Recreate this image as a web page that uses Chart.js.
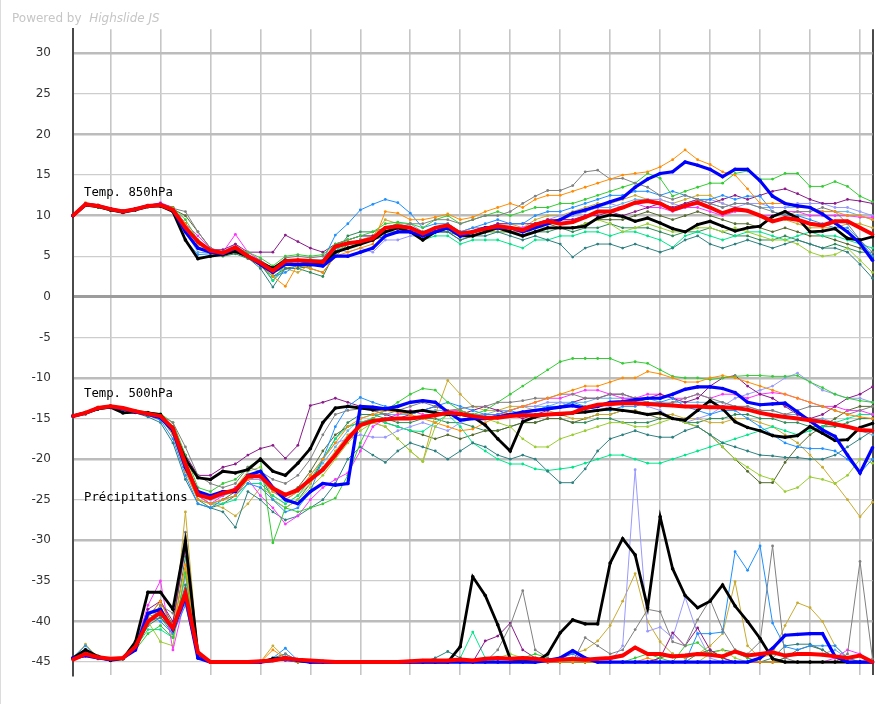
<!DOCTYPE html>
<html>
<head>
<meta charset="utf-8">
<style>
  html, body { margin: 0; padding: 0; background: #fff; }
  #wrap { position: relative; width: 879px; height: 704px; overflow: hidden; }
  #edge { position: absolute; left: 0; top: 0; width: 1px; height: 704px; background: #dcdcdc; }
  #credit { position: absolute; left: 12px; top: 11px; font: 12px "DejaVu Sans", sans-serif; color: #c6c6c6; white-space: pre; }
  #credit i { font-style: italic; }
</style>
<script src="https://cdn.jsdelivr.net/npm/chart.js@4.4.1/dist/chart.umd.min.js"></script>
</head>
<body>
<div id="wrap">
  <canvas id="ens" width="879" height="704"></canvas>
  <div id="edge"></div>
  <div id="credit">Powered by  <i>Highslide JS</i></div>
</div>
<script>
// forecast steps (hours), 6-hourly
const hours = [0,6,12,18,24,30,36,42,48,54,60,66,72,78,84,90,96,102,108,114,120,126,132,138,144,150,156,162,168,174,180,186,192,198,204,210,216,222,228,234,240,246,252,258,264,270,276,282,288,294,300,306,312,318,324,330,336,342,348,354,360,366,372,378,384];
const yTicks = [30,25,20,15,10,5,0,-5,-10,-15,-20,-25,-30,-35,-40,-45];
const panelTitles = ['Temp. 850hPa', 'Temp. 500hPa', 'Précipitations'];
const panelTitleLevels = [12.4, -12.4, -25.2];

const memberColors = ['#ff8c00','#808080','#33cc33','#1e90ff','#8b1a8b','#ff33ff','#2f8080','#9acd32','#00e68a','#9999ff','#c8aa30','#556b2f','#2e8b57','#66b3e6'];

// ---- Temp. 850hPa ----
const t850Mean = [10,11.4,11.2,10.8,10.5,10.8,11.2,11.3,10.7,8.5, 6.8,5.7,5.4,6.1,5.0,4.2,3.2,4.4,4.5,4.4, 4.3,6.2,6.6,6.8,7.2,8.5,8.7,8.5,7.8,8.5, 8.8,7.8,8.0,8.4,8.7,8.5,8.2,8.9,9.3,9.0, 9.2,9.8,10.5,10.5,11.0,11.6,11.8,11.5,10.7,11.2, 11.6,11.0,10.3,10.8,10.6,10.0,9.3,9.7,9.5,9.0, 8.8,9.3,9.3,8.5,7.7];
const t850Oper = [10,11.4,11.2,10.8,10.5,10.8,11.2,11.3,10.7,8.0, 6.0,5.5,5.3,6.0,5.0,4.0,3.0,4.0,4.0,4.0, 3.8,5.0,5.0,5.5,6.0,7.5,8.0,8.0,7.5,8.0, 8.5,7.5,8.0,8.5,8.5,8.5,8.0,8.5,9.0,9.5, 10.3,10.7,11.2,11.7,12.2,13.5,14.5,15.2,15.4,16.6, 16.2,15.7,14.8,15.7,15.7,14.3,12.4,11.5,11.2,11.0, 10.2,9.1,8.0,6.6,4.5];
const t850Ctrl = [10,11.3,11.1,10.7,10.4,10.7,11.1,11.2,10.5,7.0, 4.7,5.0,5.2,5.6,5.0,4.2,3.5,4.5,4.5,4.3, 4.0,5.5,6.0,6.5,7.0,8.0,8.5,8.0,7.0,8.0, 8.5,7.5,7.5,8.0,8.5,8.0,7.5,8.0,8.5,8.5, 8.5,8.7,9.7,10.1,9.9,9.3,9.7,9.1,8.4,8.0, 8.9,9.3,8.7,8.1,8.5,8.7,9.9,10.5,9.7,8.0, 8.1,8.4,7.2,7.0,7.4];
const t850M1 = [10,11.6,11.3,10.8,10.6,10.9,11.2,11.4,10.9,9.0, 6.5,5.6,5.3,5.8,5.0,4.0,2.5,1.3,4.0,3.5, 3.0,5.0,5.5,6.0,6.5,10.5,10.3,9.5,9.5,9.8, 10.2,9.5,9.8,10.5,11.0,11.5,11.0,12.0,12.5,12.5, 13.0,13.5,14.0,14.5,15.0,15.2,15.4,16.0,16.9,18.1, 16.9,16.3,15.4,15.0,13.3,11.5,11.5,11.5,11.0,11.0, 10.5,10.5,10.0,10.0,9.5];
const t850M2 = [10,11.5,11.3,10.9,10.6,10.8,11.1,11.3,10.9,10.5, 8.0,6.0,5.5,5.8,5.2,4.5,3.5,4.8,5.0,4.8, 5.0,6.0,6.5,7.0,7.0,8.0,8.5,9.0,9.0,9.5, 9.5,9.0,9.5,10.0,10.0,10.5,11.5,12.4,13.1,13.1, 13.7,15.4,15.6,14.5,14.6,14.0,13.5,12.5,12.0,12.5, 12.0,11.5,11.0,11.5,11.5,11.0,10.5,10.0,10.5,10.5, 11.0,10.5,9.0,7.0,5.5];
const t850M3 = [10,11.3,11.0,10.6,10.4,10.8,11.2,11.4,11.0,9.5, 7.0,5.8,5.5,6.0,5.5,4.8,3.8,5.0,5.2,5.0, 5.2,6.5,7.0,7.5,8.0,9.0,9.2,9.0,8.5,9.5, 10.0,9.0,9.5,10.0,10.5,10.0,10.5,11.0,11.0,11.5, 11.5,12.0,12.5,13.0,13.5,14.0,15.2,14.6,12.4,13.0, 13.5,14.0,14.0,15.2,15.5,14.5,14.5,15.2,15.2,13.6, 13.6,14.2,13.6,12.4,11.7];
const t850M4 = [10,11.4,11.2,10.8,10.4,10.7,11.1,11.2,10.5,7.0, 5.2,5.3,5.5,6.0,5.0,4.0,2.5,3.0,4.0,4.5, 4.5,7.6,9.0,10.7,11.4,12.0,11.6,10.3,8.5,9.0, 9.0,8.0,8.5,9.0,9.5,9.0,9.0,10.0,10.5,10.5, 11.0,11.5,12.0,12.5,12.5,13.0,13.0,12.5,13.0,12.5, 12.0,12.0,12.5,12.0,12.4,12.4,10.5,10.0,10.0,9.5, 9.0,8.5,8.5,7.0,5.0];
const t850M5 = [10,11.5,11.3,10.9,10.6,10.9,11.3,11.5,11.0,9.0, 6.5,5.8,5.8,6.5,5.5,5.5,5.5,7.6,6.8,6.0, 5.5,6.5,7.0,7.5,7.5,8.0,8.5,8.5,8.0,8.5, 8.5,8.0,8.0,8.5,9.0,9.0,9.0,9.0,9.5,9.5, 9.5,10.0,10.0,10.5,10.0,10.5,11.0,11.5,11.0,11.5, 12.0,11.5,12.0,12.5,12.0,12.5,13.0,13.3,12.7,12.0, 11.5,11.5,12.0,11.8,11.5];
const t850M6 = [10,11.4,11.1,10.8,10.5,10.8,11.2,11.6,11.0,9.0, 7.5,6.0,5.5,7.7,5.5,4.5,3.5,4.5,4.5,4.0, 4.0,6.0,6.5,7.0,7.0,8.5,8.5,8.5,7.5,8.5, 8.5,7.5,8.0,8.5,8.5,8.5,8.5,9.0,9.5,9.5, 9.5,10.0,10.5,10.5,11.0,11.5,11.0,11.0,10.5,11.0, 11.0,10.5,10.0,10.5,10.5,10.0,10.0,10.5,10.5,10.0, 10.0,10.0,10.0,9.8,9.8];
const t850M7 = [10,11.3,11.0,10.7,10.4,10.7,11.1,11.2,10.6,8.0, 6.0,5.5,5.2,5.5,4.8,3.5,1.2,3.5,3.5,3.8, 4.0,5.5,6.0,6.5,7.0,7.5,8.0,8.0,7.5,8.0, 8.0,7.0,7.5,7.5,8.0,7.5,7.0,7.5,7.0,6.5, 4.9,6.0,6.5,6.5,6.0,6.5,6.0,5.5,6.0,7.0, 7.5,6.5,6.0,6.5,7.0,6.5,6.0,6.5,7.0,6.5, 6.0,6.0,5.5,4.0,2.3];
const t850M8 = [10,11.5,11.2,10.8,10.5,10.8,11.2,11.3,10.8,8.5, 6.5,5.5,5.3,6.0,5.0,4.0,2.8,4.0,4.0,4.0, 4.0,6.0,6.5,6.5,7.0,8.0,8.0,8.0,7.0,8.0, 8.5,7.5,7.5,8.0,8.0,8.0,7.5,8.5,8.5,8.5, 8.5,9.0,9.5,9.0,8.0,8.5,9.0,8.5,8.0,8.0, 8.5,8.5,8.0,8.5,8.0,7.5,7.0,7.0,6.5,5.5, 5.0,5.2,6.0,4.5,3.0];
const t850M9 = [10,11.4,11.2,10.7,10.5,10.8,11.2,11.3,10.8,8.5, 6.5,5.6,5.5,6.0,5.0,4.5,2.0,4.0,4.5,4.5, 4.5,6.0,6.0,6.5,7.0,8.0,8.0,8.0,7.0,7.5, 7.5,6.5,7.0,7.0,7.0,6.5,6.0,7.0,7.0,7.5, 7.5,8.0,8.0,7.5,8.0,8.0,7.5,7.0,6.1,7.5, 8.0,7.5,7.0,7.5,8.0,8.0,7.5,7.0,7.5,8.0, 7.5,7.5,7.0,6.5,6.0];
const t850M10 = [10,11.4,11.1,10.8,10.5,10.8,11.2,11.4,10.8,8.0, 6.0,5.6,5.5,6.5,5.0,4.0,3.0,4.0,4.0,4.5, 4.5,6.0,5.5,6.0,5.5,7.0,7.0,7.5,7.5,8.0, 8.5,8.0,8.5,8.5,9.0,8.5,8.5,9.0,9.5,10.0, 10.0,10.5,11.0,11.5,11.0,11.5,12.0,12.0,11.5,11.0, 11.5,12.0,11.5,11.0,11.5,11.5,11.0,11.0,11.5,11.5, 11.5,11.0,11.0,10.5,10.0];
const t850M11 = [10,11.5,11.3,10.9,10.6,10.8,11.2,11.3,10.8,9.0, 7.0,5.5,5.3,5.8,4.8,4.0,3.0,3.5,3.0,4.0, 4.0,5.5,6.5,7.0,7.5,9.5,9.0,8.5,8.0,8.5, 9.0,8.0,8.5,8.5,9.0,9.0,8.5,9.5,10.0,10.0, 10.5,11.0,11.5,11.5,12.0,12.5,12.0,12.0,11.5,12.0, 12.5,12.5,11.5,11.0,10.5,10.0,9.5,9.5,9.0,8.5, 8.5,8.5,9.0,9.0,8.5];
const t850M12 = [10,11.3,11.1,10.7,10.4,10.7,11.1,11.3,10.8,10.0, 8.0,6.0,5.2,5.5,4.8,3.8,2.5,3.5,3.8,3.5, 3.0,5.0,6.5,7.0,7.0,8.0,8.5,8.0,7.0,8.0, 8.0,7.0,7.5,8.0,8.5,8.0,8.0,8.5,9.0,8.5, 8.5,9.0,9.5,9.5,9.5,10.0,10.5,10.0,9.5,10.0, 10.5,10.0,9.5,9.0,9.0,8.5,8.0,8.5,8.0,7.5, 7.5,7.0,6.5,6.0,5.0];
const t850M13 = [10,11.4,11.2,10.8,10.5,10.8,11.1,11.2,10.7,8.5, 6.5,5.5,5.0,5.3,4.7,4.0,2.0,3.5,3.5,3.0, 2.5,5.5,7.5,8.0,8.0,8.5,9.0,8.5,7.5,8.0, 8.0,7.5,7.5,8.0,8.0,8.0,7.5,8.0,8.0,8.5, 8.0,8.5,8.5,9.0,8.5,8.5,8.5,8.0,7.5,8.0, 8.0,8.5,8.0,7.5,7.5,7.0,7.0,7.5,7.0,6.5, 6.0,6.5,6.0,5.5,5.5];
const t850M14 = [10,11.5,11.3,10.9,10.6,10.9,11.3,11.4,10.9,8.0, 5.5,5.4,5.5,6.0,5.0,4.5,3.5,4.5,4.5,4.5, 4.5,6.5,7.0,7.5,7.5,8.5,9.0,9.0,8.0,8.5, 9.0,8.0,8.0,8.5,8.5,8.5,8.5,9.0,9.5,9.5, 10.0,10.5,11.0,11.0,11.5,12.0,12.0,11.5,11.0,11.5, 12.0,11.5,11.0,11.5,11.5,11.0,11.0,11.0,11.0,11.0, 10.5,10.5,10.5,10.0,9.5];

// ---- Temp. 500hPa ----
const t500Mean = [-14.7,-14.3,-13.7,-13.5,-13.7,-14.1,-14.4,-14.7,-16.2,-20.6, -24.4,-24.8,-24.2,-23.8,-22.1,-22.1,-23.6,-24.4,-23.8,-22.5, -21.3,-19.5,-17.5,-15.8,-15.3,-15.1,-15.0,-15.0,-14.8,-14.6, -14.3,-14.4,-14.7,-14.9,-14.9,-14.7,-14.6,-14.6,-14.5,-14.4, -14.3,-13.7,-13.3,-13.2,-13.1,-13.1,-13.2,-13.3,-13.4,-13.5, -13.5,-13.6,-13.6,-13.7,-13.9,-14.3,-14.6,-14.8,-15.0,-15.2, -15.4,-15.7,-16.0,-16.4,-16.5];
const t500Oper = [-14.7,-14.3,-13.7,-13.5,-13.8,-14.2,-14.5,-14.9,-16.5,-21.0, -24.0,-24.5,-24.0,-24.0,-22.0,-21.5,-23.5,-25.0,-25.5,-24.0, -23.0,-23.2,-23.0,-13.5,-13.6,-13.8,-13.5,-13.0,-12.8,-13.0, -14.2,-15.2,-15.0,-15.0,-14.8,-14.5,-14.2,-14.0,-13.8,-13.6, -13.4,-13.7,-13.5,-13.0,-12.9,-12.7,-12.5,-12.5,-12.0,-11.4, -11.1,-11.1,-11.3,-11.8,-13.0,-13.3,-13.2,-13.1,-14.2,-15.3, -16.4,-17.2,-19.5,-21.7,-18.6];
const t500Ctrl = [-14.7,-14.3,-13.8,-13.6,-14.3,-14.2,-14.3,-14.5,-16.5,-20.0, -22.3,-22.5,-21.5,-21.7,-21.3,-20.0,-21.5,-22.0,-20.5,-18.7, -15.5,-13.7,-13.5,-13.7,-13.9,-13.8,-14.0,-14.2,-14.0,-14.3, -14.5,-14.5,-14.8,-15.8,-17.5,-19.0,-15.4,-14.8,-14.5,-14.5, -14.3,-14.2,-14.0,-13.8,-14.0,-14.2,-14.5,-14.3,-15.0,-15.2, -14.0,-12.8,-13.8,-15.4,-16.1,-16.5,-17.1,-17.3,-17.1,-16.0, -16.8,-17.7,-17.6,-16.1,-15.6];
const t500M1 = [-14.7,-14.2,-13.6,-13.5,-13.8,-14.0,-14.3,-14.8,-17.0,-21.5, -25.0,-25.5,-25.0,-24.5,-22.5,-22.0,-24.0,-25.0,-24.0,-22.0, -20.0,-18.0,-16.0,-15.0,-14.5,-14.0,-14.2,-14.5,-15.0,-15.5, -16.0,-16.5,-16.3,-15.5,-14.8,-14.0,-13.5,-13.0,-12.5,-12.0, -11.5,-11.0,-11.0,-10.5,-10.0,-10.0,-9.2,-9.5,-10.0,-10.5, -10.5,-10.0,-9.7,-10.0,-10.5,-11.0,-11.5,-12.0,-12.5,-13.0, -13.5,-14.0,-14.5,-14.8,-15.0];
const t500M2 = [-14.6,-14.3,-13.7,-13.6,-13.9,-14.1,-14.4,-14.6,-15.5,-18.5, -22.0,-23.0,-23.5,-23.0,-21.0,-21.5,-22.5,-23.0,-22.0,-20.0, -17.0,-14.5,-14.0,-13.8,-14.0,-14.5,-14.0,-13.5,-13.0,-13.5, -14.0,-13.8,-13.5,-13.5,-13.0,-13.0,-12.8,-12.5,-12.5,-12.0, -12.0,-12.5,-12.5,-12.0,-12.0,-12.5,-13.0,-13.5,-13.0,-12.5, -12.0,-12.5,-13.0,-13.5,-13.5,-14.0,-14.0,-14.5,-14.0,-13.5, -13.5,-14.0,-14.5,-14.0,-13.5];
const t500M3 = [-14.6,-14.2,-13.6,-13.4,-13.7,-14.0,-14.2,-14.4,-15.5,-19.5, -23.5,-24.0,-23.0,-22.5,-21.0,-20.0,-30.3,-26.0,-26.5,-26.0, -25.5,-24.8,-22.0,-18.0,-15.0,-14.0,-13.0,-12.0,-11.3,-11.5, -13.0,-14.0,-14.5,-14.0,-13.0,-12.0,-11.0,-10.0,-9.0,-8.0, -7.6,-7.6,-7.6,-7.6,-8.2,-8.0,-8.2,-9.0,-9.8,-10.0, -10.0,-10.2,-10.0,-9.8,-9.7,-9.7,-9.8,-9.8,-9.7,-10.5, -11.2,-12.0,-12.5,-12.8,-13.0];
const t500M4 = [-14.8,-14.4,-13.8,-13.6,-13.9,-14.2,-14.6,-15.2,-17.5,-22.0, -25.5,-26.0,-25.0,-24.5,-23.0,-23.5,-25.0,-26.5,-26.0,-24.0, -20.0,-16.0,-13.5,-12.4,-13.0,-13.5,-14.0,-14.5,-14.0,-13.5, -13.0,-13.5,-14.0,-14.5,-14.5,-14.0,-14.5,-14.0,-13.5,-13.5, -13.0,-13.5,-14.0,-14.0,-13.5,-13.5,-13.0,-13.0,-12.5,-13.5, -14.0,-14.5,-14.0,-14.0,-15.0,-16.0,-17.0,-18.0,-18.5,-18.7, -18.7,-19.0,-20.0,-21.7,-20.0];
const t500M5 = [-14.7,-14.3,-13.8,-13.6,-13.9,-14.2,-14.4,-14.7,-16.0,-19.5, -22.0,-22.0,-21.0,-20.6,-19.5,-18.7,-18.3,-19.9,-18.3,-13.4, -13.0,-12.5,-13.0,-13.5,-14.0,-14.5,-15.0,-14.5,-14.0,-13.5, -14.0,-14.5,-14.0,-13.5,-14.0,-14.5,-15.0,-14.5,-14.0,-13.5, -13.0,-12.5,-12.5,-12.0,-12.0,-12.5,-12.5,-12.0,-12.5,-13.0, -12.5,-11.0,-10.0,-9.7,-11.0,-12.0,-12.5,-13.5,-14.5,-15.0, -14.5,-13.5,-12.5,-12.0,-11.1];
const t500M6 = [-14.7,-14.3,-13.7,-13.5,-13.8,-14.2,-14.5,-14.8,-16.5,-21.0, -24.5,-25.5,-24.5,-23.5,-22.5,-24.5,-26.0,-28.0,-27.0,-25.0, -23.5,-22.5,-21.7,-19.0,-16.0,-15.0,-14.5,-14.0,-14.5,-14.5, -14.0,-14.0,-14.5,-15.0,-14.5,-14.0,-13.5,-13.0,-12.5,-12.5, -12.0,-11.5,-11.5,-12.0,-12.5,-12.5,-12.0,-12.0,-12.5,-12.5, -12.0,-12.5,-12.0,-12.0,-12.5,-12.0,-11.8,-12.0,-12.5,-13.0, -13.5,-13.5,-14.0,-14.0,-14.5];
const t500M7 = [-14.8,-14.5,-13.9,-13.7,-14.0,-14.3,-14.8,-15.5,-18.0,-22.5, -25.5,-26.0,-26.5,-28.4,-24.0,-25.0,-26.5,-27.5,-27.0,-26.0, -25.0,-23.0,-20.0,-18.5,-19.5,-20.4,-19.0,-18.0,-18.5,-19.0, -20.0,-19.0,-18.0,-18.5,-19.5,-20.0,-19.5,-20.0,-21.5,-22.9, -22.9,-21.2,-19.0,-17.5,-17.0,-16.5,-17.0,-17.3,-17.3,-16.5, -16.0,-17.0,-18.0,-18.5,-19.0,-19.5,-19.6,-19.8,-19.8,-20.0, -20.0,-19.5,-18.5,-17.5,-16.5];
const t500M8 = [-14.6,-14.2,-13.7,-13.5,-13.8,-14.1,-14.4,-14.7,-16.0,-20.0, -24.0,-24.5,-24.5,-23.5,-21.5,-21.0,-25.0,-26.0,-25.0,-23.5, -22.0,-20.0,-18.0,-16.5,-15.5,-16.0,-17.5,-19.0,-20.3,-16.0, -14.5,-14.0,-14.5,-15.0,-15.5,-16.0,-17.5,-18.5,-18.5,-17.5, -17.0,-16.5,-16.0,-15.5,-15.5,-16.0,-16.0,-15.5,-15.0,-15.5, -16.0,-17.0,-18.5,-20.0,-21.0,-22.0,-22.5,-24.0,-23.5,-22.2, -22.5,-23.0,-22.0,-20.0,-20.5];
const t500M9 = [-14.7,-14.3,-13.7,-13.5,-13.8,-14.1,-14.5,-14.8,-16.5,-21.0, -25.0,-25.5,-25.5,-25.0,-23.0,-23.0,-24.5,-25.5,-24.5,-22.5, -20.0,-17.5,-16.0,-15.5,-15.0,-15.5,-16.0,-16.5,-16.6,-15.5, -14.5,-16.0,-18.0,-19.0,-20.0,-20.6,-20.6,-21.2,-21.4,-21.2, -21.0,-20.5,-20.0,-19.5,-19.5,-20.0,-20.5,-20.5,-20.0,-19.5, -19.0,-18.5,-18.0,-17.5,-17.0,-16.5,-16.0,-16.5,-17.0,-16.5, -16.0,-15.5,-15.0,-14.5,-14.5];
const t500M10 = [-14.7,-14.3,-13.7,-13.5,-13.8,-14.1,-14.4,-14.8,-16.5,-21.0, -24.5,-25.0,-24.5,-23.5,-22.5,-22.5,-24.0,-25.0,-24.0,-22.0, -20.0,-18.0,-17.5,-17.0,-17.3,-17.3,-16.5,-16.0,-15.5,-16.0, -16.5,-15.5,-15.0,-14.5,-14.5,-14.0,-13.5,-13.5,-13.0,-13.0, -13.5,-14.0,-14.0,-13.5,-13.0,-13.0,-13.5,-14.0,-15.0,-15.5, -15.0,-14.5,-13.5,-12.5,-12.0,-11.5,-11.0,-10.0,-9.4,-10.5, -11.5,-12.0,-12.5,-12.5,-13.0];
const t500M11 = [-14.6,-14.2,-13.6,-13.4,-13.7,-14.0,-14.4,-14.7,-16.0,-20.5, -24.5,-25.5,-26.0,-27.0,-25.5,-23.5,-24.5,-25.5,-24.5,-23.0, -21.0,-19.0,-17.0,-16.0,-15.5,-16.0,-17.5,-19.0,-20.3,-14.5, -10.3,-12.0,-13.5,-14.0,-14.0,-13.5,-13.5,-14.0,-14.0,-14.5, -15.0,-15.0,-14.5,-14.5,-14.0,-14.0,-14.5,-14.5,-14.5,-15.0, -15.0,-15.5,-15.5,-15.0,-15.0,-15.5,-16.0,-17.0,-18.0,-19.5, -21.0,-23.0,-25.0,-27.1,-25.3];
const t500M12 = [-14.7,-14.3,-13.7,-13.5,-13.8,-14.2,-14.5,-14.8,-16.5,-21.0, -24.5,-25.5,-25.0,-24.0,-22.5,-22.0,-23.5,-24.5,-23.5,-21.5, -19.0,-17.0,-16.0,-15.5,-15.0,-15.5,-16.0,-16.5,-17.0,-17.5, -17.0,-17.5,-17.0,-16.5,-16.5,-16.0,-15.5,-15.5,-15.0,-15.0, -15.5,-15.0,-14.5,-14.5,-14.0,-14.0,-14.5,-15.0,-15.0,-15.5, -16.0,-17.0,-18.5,-20.0,-21.5,-22.9,-22.9,-20.4,-18.5,-17.0, -16.0,-15.0,-14.0,-13.5,-13.5];
const t500M13 = [-14.7,-14.3,-13.8,-13.6,-13.9,-14.2,-14.5,-14.9,-17.0,-21.5, -25.0,-26.0,-25.5,-24.5,-22.5,-22.0,-25.0,-26.0,-25.0,-23.0, -20.0,-17.5,-15.5,-14.5,-14.5,-15.0,-15.5,-15.5,-15.0,-15.0, -15.5,-15.5,-16.0,-16.5,-16.5,-16.0,-15.5,-15.5,-15.0,-15.0, -15.5,-15.5,-15.0,-15.0,-15.5,-15.5,-15.5,-15.0,-15.0,-15.5, -15.5,-15.0,-15.0,-14.5,-14.5,-15.0,-15.0,-15.5,-15.5,-16.0, -16.0,-16.0,-15.5,-15.0,-15.0];
const t500M14 = [-14.7,-14.3,-13.7,-13.5,-13.8,-14.1,-14.4,-14.7,-16.0,-20.5, -24.0,-25.0,-24.5,-24.0,-22.5,-22.5,-24.0,-25.0,-24.0,-22.5, -20.5,-18.5,-16.5,-15.0,-14.5,-14.5,-14.5,-14.5,-14.0,-14.0, -14.0,-14.5,-14.5,-14.5,-14.0,-14.0,-13.5,-13.5,-13.5,-13.0, -13.0,-13.0,-12.5,-12.5,-12.5,-12.5,-12.5,-13.0,-13.0,-13.0, -13.0,-13.0,-13.0,-13.5,-13.5,-14.0,-14.0,-14.5,-14.5,-15.0, -15.0,-15.5,-16.0,-16.5,-17.0];

// ---- Précipitations (drawn on the -45 baseline) ----
const prMean = [-44.7,-44.0,-44.4,-44.6,-44.5,-43.1,-40.0,-38.9,-40.8,-36.5, -43.8,-45.0,-45.0,-45.0,-45.0,-44.9,-44.8,-44.5,-44.7,-44.8, -44.9,-45.0,-45.0,-45.0,-45.0,-45.0,-45.0,-44.9,-44.8,-44.8, -44.8,-44.7,-44.8,-44.6,-44.5,-44.6,-44.5,-44.6,-44.8,-44.7, -44.6,-44.7,-44.6,-44.5,-44.2,-43.2,-44.0,-44.0,-44.3,-44.2, -44.0,-44.1,-44.3,-43.7,-44.2,-44.0,-43.8,-44.2,-44.0,-44.0, -44.1,-44.3,-44.5,-44.2,-45.0];
const prOper = [-44.5,-44.2,-44.5,-44.7,-44.5,-43.5,-39.0,-38.5,-41.0,-37.0, -44.5,-45.0,-45.0,-45.0,-45.0,-45.0,-44.8,-44.5,-44.8,-45.0, -45.0,-45.0,-45.0,-45.0,-45.0,-45.0,-45.0,-45.0,-45.0,-45.0, -45.0,-45.0,-45.0,-45.0,-45.0,-45.0,-45.0,-45.0,-44.8,-44.5, -43.6,-44.5,-45.0,-45.0,-45.0,-45.0,-45.0,-45.0,-45.0,-45.0, -45.0,-45.0,-45.0,-45.0,-45.0,-44.5,-43.3,-41.7,-41.6,-41.5, -41.5,-44.3,-45.0,-45.0,-45.0];
const prCtrl = [-44.5,-43.5,-44.3,-44.8,-44.6,-42.5,-36.4,-36.4,-38.5,-30.1, -44.0,-45.0,-45.0,-45.0,-45.0,-45.0,-44.6,-44.5,-44.8,-45.0, -45.0,-45.0,-45.0,-45.0,-45.0,-45.0,-45.0,-45.0,-45.0,-45.0, -45.0,-43.1,-34.5,-36.8,-40.4,-44.6,-44.9,-45.0,-44.0,-41.4, -39.8,-40.3,-40.3,-32.8,-29.8,-31.8,-38.3,-27.1,-33.5,-36.8, -38.3,-37.5,-35.5,-38.1,-40.0,-42.1,-44.6,-45.0,-45.0,-45.0, -45.0,-45.0,-45.0,-45.0,-45.0];
const prM1 = [-44.6,-44.0,-44.6,-44.8,-44.5,-43.5,-39.5,-37.5,-41.0,-33.0, -44.0,-45,-45,-45,-45,-45,-43.5,-44.5,-45,-45, -45,-45,-45,-45,-45,-45,-45,-45,-45,-45, -45,-45,-45,-45,-45,-45,-45,-45,-45,-45, -45,-45,-45,-45,-45,-45,-44.5,-45,-45,-45, -45,-45,-45,-45,-45,-45,-45,-45,-45,-45, -45,-45,-45,-45,-45];
const prM2 = [-44.5,-43.5,-44.3,-44.6,-44.5,-43.0,-40.5,-38.0,-39.0,-29.0, -43.5,-45,-45,-45,-45,-45,-44.7,-44.0,-44.8,-45, -45,-45,-45,-45,-45,-45,-45,-45,-45,-45, -45,-45,-45,-45,-43.5,-40.5,-36.2,-43.5,-44.5,-45, -45,-42.0,-43.0,-44.0,-43.5,-41.0,-38.5,-38.8,-42.5,-43.0, -39.8,-37.3,-41.0,-43.5,-44.0,-42.5,-30.7,-44.5,-45,-45, -45,-45,-44.0,-32.6,-44.6];
const prM3 = [-44.6,-44.2,-44.6,-44.8,-44.6,-43.5,-41.5,-40.5,-42.0,-34.0, -44.5,-45,-45,-45,-45,-45,-44.8,-44.6,-45,-45, -45,-45,-45,-45,-45,-45,-45,-45,-45,-45, -45,-45,-45,-45,-45,-45,-44.5,-44.0,-44.5,-45, -45,-45,-45,-45,-45,-44.5,-44.0,-44.5,-45,-43.0, -42.6,-44.0,-44.5,-43.5,-44.5,-45,-45,-45,-45,-45, -45,-45,-45,-45,-45];
const prM4 = [-44.4,-43.0,-44.5,-44.7,-44.5,-42.5,-39.0,-40.0,-41.5,-38.0, -44.5,-45,-45,-45,-45,-45,-44.5,-43.3,-44.8,-45, -45,-45,-45,-45,-45,-45,-45,-45,-45,-45, -45,-45,-45,-45,-45,-45,-45,-45,-44.8,-44.5, -44.0,-44.8,-45,-45,-45,-45,-45,-45,-45,-45, -41.5,-41.5,-41.3,-31.4,-33.7,-30.7,-40.2,-43.1,-43.5,-43.0, -43.0,-43.0,-44.5,-45,-45];
const prM5 = [-44.6,-44.0,-44.4,-44.8,-44.6,-43.0,-38.5,-37.5,-40.0,-31.0, -44.0,-45,-45,-45,-45,-45,-44.8,-44.8,-45,-45, -45,-45,-45,-45,-45,-45,-45,-45,-45,-45, -45,-45,-45,-42.4,-41.8,-40.2,-43.5,-44.5,-45,-45, -45,-45,-45,-45,-45,-45,-45,-44.5,-41.4,-43.0, -40.8,-43.5,-44.5,-45,-45,-45,-45,-45,-45,-45, -45,-45,-45,-45,-45];
const prM6 = [-44.7,-44.3,-44.6,-44.8,-44.6,-43.0,-38.0,-35.0,-43.5,-37.0, -44.5,-45,-45,-45,-45,-45,-44.8,-44.8,-45,-45, -45,-45,-45,-45,-45,-45,-45,-45,-45,-45, -45,-45,-45,-45,-45,-45,-45,-45,-45,-45, -45,-45,-45,-45,-45,-45,-45,-45,-45,-45, -45,-45,-45,-45,-45,-45,-45,-45,-45,-45, -45,-44.5,-43.5,-44.0,-45];
const prM7 = [-44.5,-43.8,-44.4,-44.7,-44.5,-43.2,-40.0,-39.5,-41.0,-35.5, -44.5,-45,-45,-45,-45,-45,-44.5,-44.0,-44.8,-45, -45,-45,-45,-45,-45,-45,-45,-45,-45,-44.5, -43.7,-44.5,-45,-45,-45,-45,-45,-45,-45,-45, -45,-45,-45,-45,-45,-45,-45,-45,-45,-45, -45,-45,-45,-45,-45,-45,-44.5,-43.0,-42.8,-42.8, -43.5,-44.5,-45,-45,-45];
const prM8 = [-44.6,-44.2,-44.6,-44.8,-44.6,-43.5,-40.0,-42.5,-43.0,-33.5, -44.5,-45,-45,-45,-45,-45,-44.8,-44.7,-45,-45, -45,-45,-45,-45,-45,-45,-45,-45,-45,-45, -45,-45,-45,-45,-44.5,-44.0,-44.5,-45,-45,-45, -45,-45,-45,-45,-45,-45,-45,-45,-45,-45, -45,-44.0,-43.5,-44.5,-45,-45,-45,-45,-45,-45, -45,-45,-45,-45,-45];
const prM9 = [-44.6,-44.0,-44.5,-44.8,-44.6,-43.2,-41.0,-41.0,-42.0,-36.0, -44.5,-45,-45,-45,-45,-45,-44.8,-44.8,-45,-45, -45,-45,-45,-45,-45,-45,-45,-45,-45,-45, -45,-44.5,-41.3,-44.5,-45,-45,-45,-45,-45,-45, -45,-45,-45,-45,-45,-45,-45,-45,-45,-45, -45,-45,-45,-45,-45,-45,-45,-45,-45,-45, -45,-45,-45,-45,-45];
const prM10 = [-44.5,-44.0,-44.5,-44.7,-44.5,-43.0,-40.0,-39.0,-41.5,-34.5, -44.5,-45,-45,-45,-45,-45,-44.8,-44.5,-44.8,-45, -45,-45,-45,-45,-45,-45,-45,-45,-45,-45, -45,-45,-45,-45,-45,-45,-45,-45,-45,-44.7, -44.5,-45,-45,-45,-43.0,-21.3,-41.2,-40.7,-42.0,-37.0, -41.5,-44.5,-45,-45,-45,-45,-45,-45,-45,-45, -45,-45,-45,-45,-45];
const prM11 = [-44.6,-42.8,-44.5,-44.8,-44.6,-43.5,-40.0,-38.0,-42.0,-26.5, -44.0,-45,-45,-45,-45,-45,-43.0,-44.5,-45,-45, -45,-45,-45,-45,-45,-45,-45,-45,-45,-45, -45,-45,-45,-45,-45,-45,-45,-45,-45,-44.5, -44.0,-43.5,-42.4,-40.5,-37.5,-34.1,-40.0,-42.5,-44.0,-44.5, -44.0,-43.0,-41.5,-35.1,-43.0,-44.5,-44.0,-40.5,-37.7,-38.3, -40.0,-43.0,-44.5,-45,-45];
const prM12 = [-44.5,-43.8,-44.4,-44.7,-44.5,-43.0,-39.5,-37.5,-40.5,-30.5, -44.0,-45,-45,-45,-45,-45,-44.6,-44.6,-45,-45, -45,-45,-45,-45,-45,-45,-45,-45,-45,-45, -45,-45,-45,-45,-45,-45,-45,-45,-45,-45, -45,-45,-45,-45,-45,-45,-45,-44.5,-44.0,-44.5, -44.0,-43.5,-44.5,-45,-45,-45,-45,-44.5,-43.5,-43.0, -43.5,-44.5,-45,-45,-45];
const prM13 = [-44.6,-44.0,-44.5,-44.8,-44.6,-43.2,-40.5,-39.5,-41.5,-32.0, -44.5,-45,-45,-45,-45,-45,-44.7,-44.6,-45,-45, -45,-45,-45,-45,-45,-45,-45,-45,-45,-45, -45,-45,-45,-45,-45,-45,-45,-45,-45,-45, -45,-45,-45,-45,-45,-45,-45,-45,-45,-45, -44.0,-43.8,-43.5,-43.8,-44.5,-45,-45,-45,-45,-45, -45,-45,-45,-45,-45];
const prM14 = [-44.6,-44.1,-44.5,-44.7,-44.6,-43.3,-40.5,-38.5,-41.0,-37.5, -44.5,-45,-45,-45,-45,-45,-44.8,-44.3,-44.8,-45, -45,-45,-45,-45,-45,-45,-45,-45,-45,-45, -45,-45,-45,-45,-45,-45,-45,-45,-45,-45, -45,-45,-45,-45,-45,-45,-45,-45,-45,-45, -45,-45,-45,-45,-45,-45,-45,-44.5,-44.0,-44.0, -44.0,-43.5,-44.5,-45,-45];

const t850Members = [t850M1,t850M2,t850M3,t850M4,t850M5,t850M6,t850M7,t850M8,t850M9,t850M10,t850M11,t850M12,t850M13,t850M14];
const t500Members = [t500M1,t500M2,t500M3,t500M4,t500M5,t500M6,t500M7,t500M8,t500M9,t500M10,t500M11,t500M12,t500M13,t500M14];
const prMembers = [prM1,prM2,prM3,prM4,prM5,prM6,prM7,prM8,prM9,prM10,prM11,prM12,prM13,prM14];

function member(data, i) {
  return {
    data: data, borderColor: memberColors[i], backgroundColor: memberColors[i],
    borderWidth: 1, pointRadius: 1.4, pointBorderWidth: 0, order: 3
  };
}
function heavy(data, color, width, order) {
  return {
    data: data, borderColor: color, backgroundColor: color,
    borderWidth: width, pointRadius: 1.8, pointBorderWidth: 0, order: order
  };
}

const datasets = [];
[[t850Members, t850Mean, t850Oper, t850Ctrl],
 [t500Members, t500Mean, t500Oper, t500Ctrl],
 [prMembers, prMean, prOper, prCtrl]].forEach(([members, mean, oper, ctrl]) => {
  members.forEach((m, i) => datasets.push(member(m, i)));
  datasets.push(heavy(ctrl, '#000000', 2.8, 2));
  datasets.push(heavy(oper, '#0000ff', 3.2, 1));
  datasets.push(heavy(mean, '#ff0000', 4, 0));
});

// panel captions, drawn over the curves
const captions = {
  id: 'captions',
  afterDatasetsDraw(chart) {
    const { ctx, chartArea, scales } = chart;
    ctx.save();
    ctx.font = '12.3px "DejaVu Sans Mono", monospace';
    ctx.fillStyle = '#000';
    ctx.textBaseline = 'alphabetic';
    panelTitles.forEach((t, i) => {
      ctx.fillText(t, chartArea.left + 11, scales.y.getPixelForValue(panelTitleLevels[i]));
    });
    ctx.restore();
  }
};

new Chart(document.getElementById('ens'), {
  type: 'line',
  data: { labels: hours, datasets: datasets },
  options: {
    responsive: false,
    animation: false,
    events: [],
    layout: { padding: { left: 0, right: 6.5, top: 8, bottom: 0 } },
    elements: { line: { tension: 0 } },
    plugins: { legend: { display: false }, tooltip: { enabled: false } },
    scales: {
      x: {
        ticks: { display: false, autoSkip: false },
        border: { display: false },
        grid: {
          drawTicks: false,
          color: c => c.index === hours.length - 1 ? '#4a4a4a' : (c.index % 4 === 3 ? '#c6c6c6' : 'rgba(0,0,0,0)'),
          lineWidth: c => c.index === hours.length - 1 ? 2 : 1.6
        }
      },
      y: {
        min: -46.57,
        max: 32.97,
        afterBuildTicks: s => { s.ticks = yTicks.map(v => ({ value: v })); },
        afterFit: s => { s.width = 73; },
        ticks: { padding: 22, color: '#333', font: { family: 'DejaVu Sans', size: 12 } },
        border: { display: true, color: '#4a4a4a', width: 2 },
        grid: {
          drawTicks: false,
          color: c => c.tick.value === 0 ? '#9c9c9c' : (c.tick.value % 10 === 0 ? '#bcbcbc' : '#cdcdcd'),
          lineWidth: c => c.tick.value === 0 ? 3 : (c.tick.value % 10 === 0 ? 2.5 : 1.2)
        }
      }
    }
  },
  plugins: [captions]
});
</script>
</body>
</html>
